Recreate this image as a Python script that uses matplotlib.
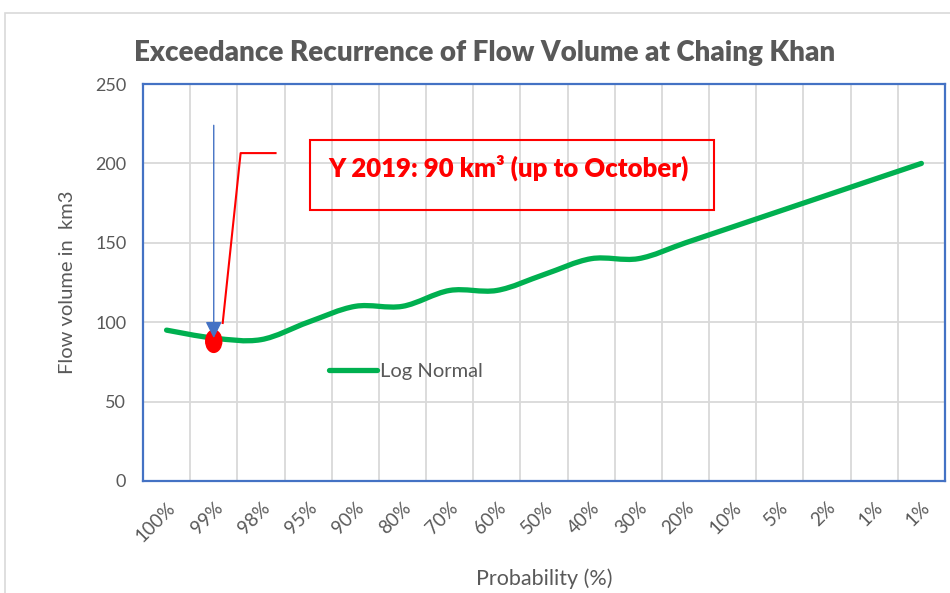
import matplotlib
matplotlib.use("Agg")
import matplotlib.pyplot as plt
from matplotlib.path import Path
from matplotlib.patches import PathPatch, Ellipse, Rectangle

plt.rcParams['font.family'] = ['Lato', 'DejaVu Sans']

# probability categories and flow volume (km3)
prob_labels = ["100%", "99%", "98%", "95%", "90%", "80%", "70%", "60%", "50%",
               "40%", "30%", "20%", "10%", "5%", "2%", "1%", "1%"]
flow_volume = [95, 90, 89, 100, 110, 110, 120, 120, 130,
               140, 140, 150, 160, 170, 180, 190, 200]
obs_index = 1        # position of the 2019 observation (99%)
obs_volume = 88
note_text = "Y 2019: 90 km\u00b3 (up to October)"

GRAY = "#595959"
GREEN = "#00B050"
BLUE = "#4472C4"


def smooth_path(xs, ys):
    # Excel style smoothed line: bezier segments through every point
    pts = list(zip(xs, ys))
    verts = [pts[0]]
    codes = [Path.MOVETO]
    n = len(pts)
    for i in range(n - 1):
        p0 = pts[max(i - 1, 0)]
        p1 = pts[i]
        p2 = pts[i + 1]
        p3 = pts[min(i + 2, n - 1)]
        c1 = (p1[0] + (p2[0] - p0[0]) / 6, p1[1] + (p2[1] - p0[1]) / 6)
        c2 = (p2[0] - (p3[0] - p1[0]) / 6, p2[1] - (p3[1] - p1[1]) / 6)
        verts += [c1, c2, p2]
        codes += [Path.CURVE4] * 3
    return Path(verts, codes)


fig = plt.figure(figsize=(9.5, 5.93), dpi=100)
ax = fig.add_axes([0.1505, 0.1889, 0.8442, 0.6694])

x = list(range(len(flow_volume)))
ax.add_patch(PathPatch(smooth_path(x, flow_volume), fill=False, edgecolor=GREEN,
                       lw=3.8, capstyle='round', zorder=3))
# proxy line for the legend
ax.plot([], [], color=GREEN, lw=3.8, solid_capstyle='round', label="Log Normal")

ax.set_xlim(-0.5, len(x) - 0.5)
ax.set_ylim(0, 250)
ax.set_yticks(range(0, 251, 50))
ax.set_xticks(x)
ax.set_xticklabels(prob_labels, rotation=45, ha='right', rotation_mode='anchor')
ax.set_xticks([i + 0.5 for i in x[:-1]], minor=True)
ax.tick_params(axis='both', length=0, labelsize=13, colors=GRAY)
ax.tick_params(axis='x', which='both', length=0, pad=13, labelsize=13.5)
ax.tick_params(axis='y', pad=12)

ax.grid(True, axis='y', which='major', color="#D9D9D9", lw=1.3)
ax.grid(True, axis='x', which='minor', color="#D9D9D9", lw=1.3)
ax.set_axisbelow(True)
for s in ax.spines.values():
    s.set_color(BLUE)
    s.set_linewidth(1.6)

fig.text(485 / 950, 1 - 53 / 593, "Exceedance Recurrence of Flow Volume at Chaing Khan",
         fontsize=20, fontweight='heavy', color=GRAY, ha='center', va='center')
ax.set_ylabel("Flow volume in  km3", fontsize=14.5, color=GRAY, labelpad=14)
ax.set_xlabel("Probability (%)", fontsize=15.5, color=GRAY, labelpad=17)

# observed 2019 point and pointer arrow
ax.add_patch(Ellipse((obs_index, obs_volume), 0.34, 14, color="#FF0000", zorder=4))
ax.annotate("", xy=(obs_index, 90), xytext=(obs_index, 224),
            arrowprops=dict(arrowstyle='-|>,head_length=0.5,head_width=0.25',
                            color=BLUE, lw=1, mutation_scale=20,
                            shrinkA=0, shrinkB=0), zorder=5)

# callout line and box
ax.plot([2.31, 1.57, 1.19], [206.5, 206.5, 99.5], color="#FF0000", lw=1.5, zorder=4)
ax.add_patch(Rectangle((3.04, 170.6), 8.57, 44.1, fill=False,
                       edgecolor="#FF0000", lw=1.5, zorder=4))
ax.text(3.43, 197, note_text, color="#FF0000", fontsize=18.5,
        fontweight='heavy', va='center', ha='left', zorder=5)

leg = ax.legend(loc='center left', bbox_to_anchor=(0.222, 0.277), frameon=False,
                fontsize=14.5, handlelength=2.4, handletextpad=0.15,
                borderaxespad=0)
for t in leg.get_texts():
    t.set_color(GRAY)

# chart area border
fig.add_artist(Rectangle((5 / 950, -0.05), 1.0, 1 - 13 / 593 + 0.05,
                         transform=fig.transFigure, fill=False,
                         edgecolor="#D9D9D9", lw=1.2))

fig.savefig("out.png", dpi=100)
